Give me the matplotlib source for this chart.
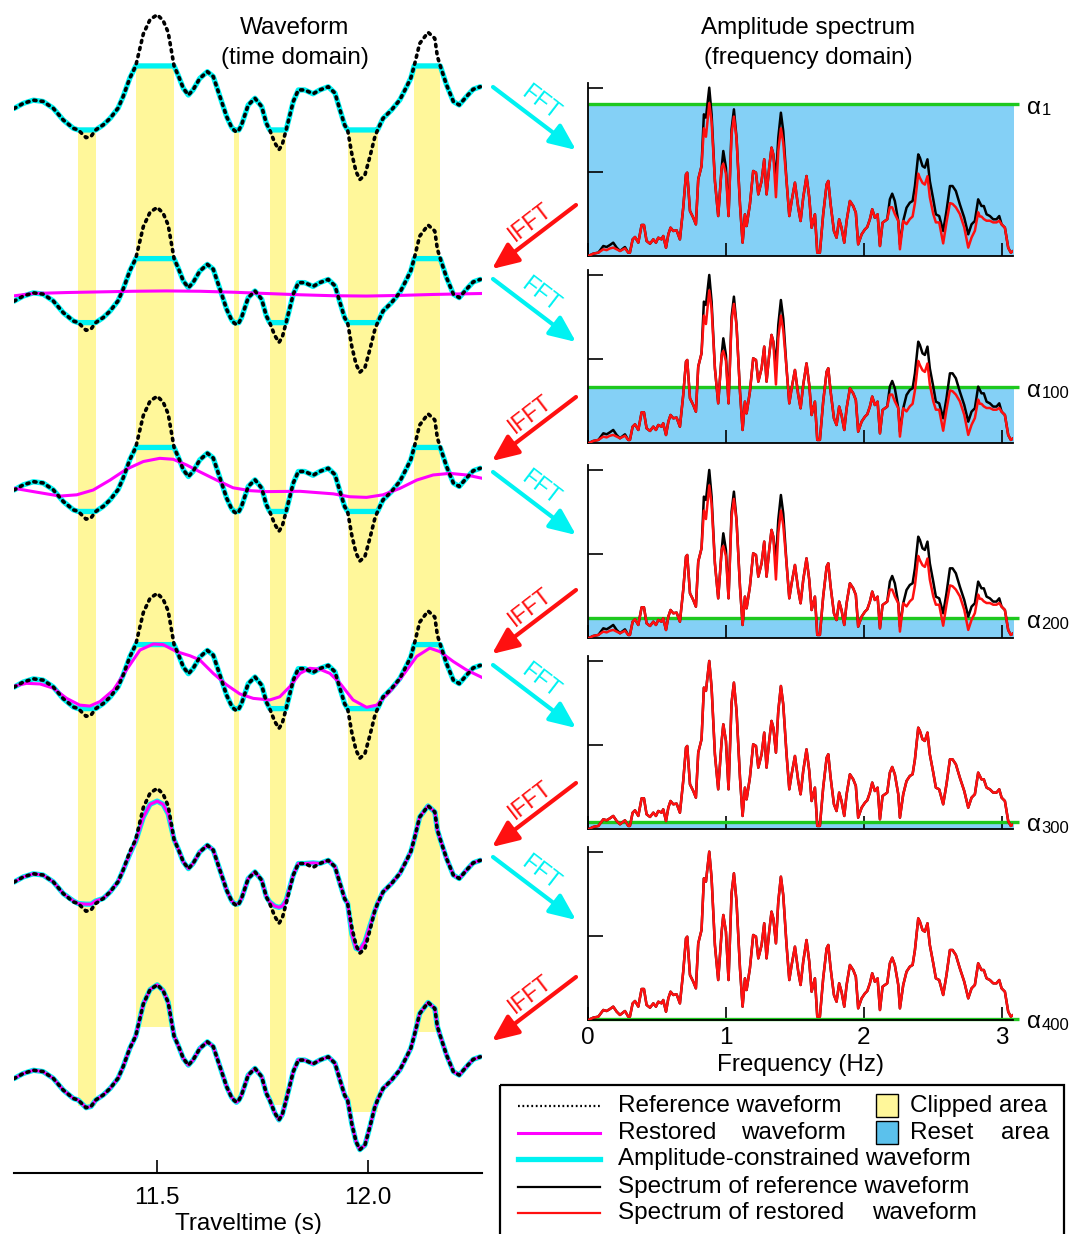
import numpy as np
import matplotlib
matplotlib.use("Agg")
import matplotlib.pyplot as plt
from matplotlib.patches import FancyArrowPatch, Rectangle

plt.rcParams['font.family'] = ['Liberation Sans', 'DejaVu Sans']

# ---------------- data ----------------
# reference waveform (time in s, amplitude in units of the clip level)
ref_t = [11.160, 11.182, 11.206, 11.229, 11.253, 11.277, 11.301, 11.3125, 11.331, 11.343,
         11.354, 11.372, 11.388, 11.407, 11.419, 11.435, 11.449, 11.467, 11.483, 11.500,
         11.514, 11.526, 11.540, 11.550, 11.562, 11.574, 11.585, 11.601, 11.619, 11.633,
         11.649, 11.665, 11.676, 11.682, 11.688, 11.694, 11.700, 11.716, 11.732, 11.748,
         11.759, 11.767, 11.779, 11.789, 11.797, 11.806, 11.823, 11.835, 11.850, 11.870,
         11.886, 11.906, 11.922, 11.934, 11.945, 11.952, 11.962, 11.972, 11.981, 11.993,
         12.005, 12.016, 12.023, 12.036, 12.056, 12.076, 12.092, 12.102, 12.110, 12.123,
         12.143, 12.159, 12.165, 12.172, 12.187, 12.203, 12.217, 12.234, 12.250, 12.267]
ref_a = [-0.33, -0.17, -0.07, -0.11, -0.32, -0.69, -0.95, -1.00, -1.24, -1.20,
         -1.00, -0.84, -0.64, -0.32, 0.04, 0.62, 1.00, 2.00, 2.45, 2.60,
         2.42, 2.05, 1.00, 0.70, 0.30, 0.09, 0.25, 0.61, 0.82, 0.67,
         0.04, -0.59, -0.90, -1.00, -1.07, -1.00, -0.85, -0.22, -0.01, -0.27,
         -0.79, -1.00, -1.40, -1.62, -1.45, -1.00, -0.11, 0.25, 0.25, 0.13,
         0.25, 0.35, 0.15, -0.38, -0.85, -1.00, -1.75, -2.30, -2.55, -2.41,
         -1.83, -1.25, -1.00, -0.64, -0.38, -0.06, 0.35, 0.62, 1.00, 1.70,
         2.05, 1.86, 1.30, 1.00, 0.40, -0.11, -0.22, 0.04, 0.27, 0.35]

# restored waveform of trace 5 (same times as reference)
rest5_a = [-0.33, -0.17, -0.07, -0.11, -0.32, -0.69, -0.92, -1.00, -1.02, -1.02,
           -0.92, -0.84, -0.64, -0.32, 0.04, 0.55, 0.95, 1.70, 2.10, 2.20,
           2.10, 1.80, 1.00, 0.70, 0.30, 0.09, 0.25, 0.61, 0.82, 0.67,
           0.04, -0.59, -0.90, -1.00, -1.02, -1.00, -0.85, -0.22, -0.01, -0.27,
           -0.79, -0.95, -1.08, -1.12, -1.08, -0.90, -0.11, 0.25, 0.25, 0.27,
           0.25, 0.35, 0.15, -0.38, -0.85, -1.00, -1.95, -2.40, -2.45, -2.20,
           -1.70, -1.25, -1.00, -0.64, -0.38, -0.06, 0.35, 0.62, 1.00, 1.70,
           2.05, 1.86, 1.30, 1.00, 0.40, -0.11, -0.22, 0.04, 0.27, 0.35]

# restored waveforms of traces 2-4
rest2_t = [11.162, 11.206, 11.285, 11.364, 11.443, 11.522, 11.601, 11.680, 11.759,
           11.839, 11.918, 11.997, 12.076, 12.155, 12.270]
rest2_a = [-0.16, -0.09, -0.06, -0.04, -0.02, -0.01, -0.02, -0.05, -0.09,
           -0.13, -0.16, -0.17, -0.15, -0.12, -0.09]
rest3_t = [11.162, 11.206, 11.269, 11.309, 11.348, 11.388, 11.427, 11.467, 11.506,
           11.538, 11.570, 11.601, 11.641, 11.680, 11.720, 11.759, 11.839, 11.918,
           11.957, 11.997, 12.036, 12.076, 12.116, 12.155, 12.195, 12.234, 12.270]
rest3_a = [-0.28, -0.38, -0.52, -0.48, -0.33, -0.02, 0.32, 0.56, 0.66,
           0.63, 0.45, 0.24, -0.02, -0.26, -0.35, -0.38, -0.37, -0.45,
           -0.54, -0.56, -0.48, -0.28, -0.02, 0.14, 0.19, 0.14, 0.04]
rest4_t = [11.162, 11.190, 11.222, 11.253, 11.285, 11.316, 11.340, 11.364, 11.396,
           11.427, 11.459, 11.491, 11.514, 11.546, 11.578, 11.601, 11.633, 11.665,
           11.696, 11.728, 11.767, 11.791, 11.815, 11.839, 11.862, 11.886, 11.910,
           11.934, 11.965, 11.997, 12.021, 12.052, 12.084, 12.116, 12.147, 12.171,
           12.203, 12.234, 12.270]
rest4_a = [-0.29, -0.21, -0.23, -0.36, -0.68, -0.89, -0.92, -0.78, -0.42,
           0.21, 0.83, 1.02, 1.00, 0.78, 0.65, 0.52, 0.10, -0.26,
           -0.54, -0.68, -0.73, -0.63, -0.31, 0.10, 0.26, 0.23, 0.10,
           -0.21, -0.73, -0.96, -0.89, -0.47, 0.05, 0.63, 0.89, 0.78,
           0.47, 0.21, -0.02]

clip_level = 1.0
# clipped intervals (start, end, side) and depth of the band in the last trace
band_t0 = [11.3125, 11.449, 11.682, 11.767, 11.952, 12.110]
band_t1 = [11.354, 11.540, 11.694, 11.806, 12.023, 12.172]
band_side = [-1, 1, -1, -1, -1, 1]
band_end = [-1.2, 1.29, -1.0, -1.16, -1.36, 1.14]

# amplitude spectra
spec_f = [0.000, 0.036, 0.073, 0.109, 0.133, 0.157, 0.181, 0.206, 0.230, 0.266,
          0.290, 0.302, 0.322, 0.339, 0.363, 0.387, 0.404, 0.423, 0.448, 0.472,
          0.491, 0.508, 0.532, 0.544, 0.564, 0.581, 0.597, 0.617, 0.641, 0.665,
          0.689, 0.709, 0.718, 0.738, 0.762, 0.781, 0.798, 0.822, 0.839, 0.854,
          0.878, 0.895, 0.919, 0.943, 0.968, 0.980, 0.999, 1.018, 1.040, 1.057,
          1.076, 1.101, 1.120, 1.137, 1.149, 1.173, 1.197, 1.217, 1.234, 1.258,
          1.277, 1.294, 1.313, 1.330, 1.343, 1.362, 1.379, 1.398, 1.415, 1.439,
          1.459, 1.476, 1.500, 1.524, 1.541, 1.560, 1.584, 1.604, 1.621, 1.645,
          1.662, 1.681, 1.705, 1.730, 1.742, 1.759, 1.783, 1.802, 1.821, 1.838,
          1.858, 1.875, 1.899, 1.923, 1.942, 1.959, 1.984, 2.008, 2.025, 2.044,
          2.061, 2.080, 2.100, 2.117, 2.136, 2.153, 2.170, 2.189, 2.206, 2.225,
          2.250, 2.262, 2.286, 2.310, 2.334, 2.354, 2.371, 2.395, 2.407, 2.426,
          2.443, 2.462, 2.479, 2.504, 2.523, 2.547, 2.576, 2.600, 2.625, 2.644,
          2.668, 2.697, 2.729, 2.758, 2.782, 2.806, 2.830, 2.842, 2.854, 2.871,
          2.891, 2.915, 2.939, 2.963, 2.983, 3.000, 3.024, 3.048, 3.067, 3.091]
spec_ref = [0.000, 0.028, 0.040, 0.119, 0.107, 0.131, 0.159, 0.099, 0.060, 0.107,
            0.040, 0.040, 0.198, 0.226, 0.159, 0.369, 0.369, 0.179, 0.147, 0.198,
            0.159, 0.218, 0.198, 0.238, 0.099, 0.258, 0.337, 0.298, 0.306, 0.198,
            0.575, 0.972, 0.992, 0.536, 0.456, 0.377, 0.913, 1.071, 1.687, 1.647,
            2.004, 1.687, 0.893, 0.476, 1.052, 1.250, 1.052, 0.476, 1.508, 1.746,
            1.409, 0.615, 0.159, 0.496, 0.357, 0.615, 1.012, 0.992, 0.734, 0.893,
            1.151, 0.734, 1.052, 1.290, 1.210, 0.913, 1.409, 1.706, 1.488, 0.893,
            0.476, 0.655, 0.873, 0.575, 0.417, 0.694, 0.952, 0.694, 0.337, 0.496,
            0.040, 0.040, 0.496, 0.853, 0.893, 0.615, 0.298, 0.218, 0.437, 0.337,
            0.159, 0.417, 0.655, 0.595, 0.516, 0.139, 0.258, 0.317, 0.345, 0.437,
            0.556, 0.456, 0.496, 0.119, 0.397, 0.417, 0.437, 0.675, 0.742, 0.655,
            0.417, 0.139, 0.417, 0.575, 0.635, 0.655, 0.833, 1.210, 1.171, 1.071,
            1.052, 1.151, 0.893, 0.675, 0.496, 0.476, 0.298, 0.536, 0.833, 0.833,
            0.774, 0.615, 0.456, 0.258, 0.377, 0.417, 0.675, 0.635, 0.595, 0.595,
            0.496, 0.476, 0.437, 0.437, 0.476, 0.377, 0.337, 0.099, 0.040, 0.067]
spec_rest = [0.000, 0.028, 0.040, 0.080, 0.070, 0.090, 0.100, 0.080, 0.060, 0.090,
             0.040, 0.040, 0.198, 0.226, 0.159, 0.369, 0.369, 0.179, 0.147, 0.198,
             0.159, 0.218, 0.198, 0.238, 0.099, 0.258, 0.337, 0.298, 0.306, 0.198,
             0.575, 0.972, 0.992, 0.536, 0.456, 0.377, 0.913, 1.071, 1.520, 1.420,
             1.820, 1.600, 0.893, 0.476, 1.052, 1.100, 0.980, 0.476, 1.450, 1.660,
             1.400, 0.615, 0.159, 0.496, 0.357, 0.615, 1.012, 0.992, 0.734, 0.893,
             1.151, 0.734, 1.052, 1.290, 1.210, 0.700, 1.250, 1.520, 1.350, 0.893,
             0.476, 0.655, 0.873, 0.575, 0.417, 0.694, 0.952, 0.694, 0.337, 0.496,
             0.040, 0.040, 0.496, 0.853, 0.893, 0.615, 0.298, 0.218, 0.437, 0.337,
             0.159, 0.417, 0.655, 0.595, 0.516, 0.139, 0.258, 0.317, 0.345, 0.437,
             0.556, 0.456, 0.496, 0.119, 0.397, 0.417, 0.437, 0.580, 0.580, 0.500,
             0.417, 0.080, 0.417, 0.380, 0.440, 0.470, 0.630, 0.980, 0.930, 0.870,
             0.850, 0.950, 0.700, 0.500, 0.400, 0.400, 0.150, 0.400, 0.630, 0.620,
             0.580, 0.500, 0.340, 0.100, 0.220, 0.300, 0.520, 0.470, 0.470, 0.440,
             0.420, 0.420, 0.400, 0.400, 0.420, 0.377, 0.337, 0.099, 0.040, 0.067]

alpha_levels = [1.81, 0.667, 0.238, 0.09, 0.015]
alpha_names = ['1', '100', '200', '300', '400']

# ---------------- styling ----------------
W, H = 1073, 1234
YELLOW = '#fff79a'
CYAN = '#00f2f2'
MAGENTA = '#ff00ff'
BLUE = '#84d0f6'
GREEN = '#1ec81e'
RED = '#ff1010'
FS = 17.5

fig = plt.figure(figsize=(W / 100, H / 100), dpi=100)


def box(x0, y0, x1, y1):
    # pixel box -> figure fraction
    return [x0 / W, 1 - y1 / H, (x1 - x0) / W, (y1 - y0) / H]


# ---------------- waveform panel ----------------
trace_off = [0.0, 6.02, 11.92, 18.08, 24.17, 30.31]
ax = fig.add_axes(box(14, 0, 482, 1172.7))
ax.set_xlim(11.160, 12.271)
ax.set_ylim(-33.58, 3.06)

for t0, t1, side, end in zip(band_t0, band_t1, band_side, band_end):
    ax.fill_between([t0, t1], end - trace_off[-1], side * clip_level - trace_off[0],
                    color=YELLOW, lw=0, zorder=1)

ref_t_arr = np.array(ref_t)
ref_a_arr = np.array(ref_a)
clipped = np.clip(ref_a_arr, -clip_level, clip_level)
restored = [None, (rest2_t, rest2_a), (rest3_t, rest3_a), (rest4_t, rest4_a),
            (ref_t, rest5_a), (ref_t, ref_a)]
constrained = [clipped, clipped, clipped, clipped, np.array(rest5_a), ref_a_arr]

for k, off in enumerate(trace_off):
    ax.plot(ref_t_arr, constrained[k] - off, color=CYAN, lw=3.8,
            solid_capstyle='round', solid_joinstyle='round', zorder=2)
    if restored[k] is not None:
        rt, ra = restored[k]
        ax.plot(rt, np.array(ra) - off, color=MAGENTA, lw=2.2, zorder=3)
    ax.plot(ref_t_arr, ref_a_arr - off, color='black', lw=2.6,
            dashes=(0.6, 1.4), dash_capstyle='round', zorder=4)

for s in ['left', 'right', 'top']:
    ax.spines[s].set_visible(False)
ax.spines['bottom'].set_linewidth(1.5)
ax.set_yticks([])
ax.set_xticks([11.5, 12.0])
ax.set_xticklabels(['11.5', '12.0'])
ax.tick_params(axis='x', direction='in', length=9.5, width=1.2, pad=10, labelsize=FS)
ax.set_xlabel('Traveltime (s)', fontsize=FS, labelpad=3)
ax.patch.set_alpha(0)

# ---------------- spectrum panels ----------------
panel_bottom = [256, 443.3, 638.3, 829.3, 1020]
unit = 84.0
f_max = spec_f[-1]
for i, yb in enumerate(panel_bottom):
    sa = fig.add_axes(box(588.3, yb - 2.06 * unit, 1013.3, yb))
    sa.set_xlim(0, 3.085)
    sa.set_ylim(0, 2.06)
    lev = alpha_levels[i]
    sa.fill_between([0, f_max], 0, lev, color=BLUE, lw=0, zorder=1)
    sa.plot([0, 3.13], [lev, lev], color=GREEN, lw=2.4, clip_on=False, zorder=2,
            solid_capstyle='butt')
    red = spec_rest if i < 3 else spec_ref
    sa.plot(spec_f, spec_ref, color='black', lw=1.8, zorder=3)
    sa.plot(spec_f, red, color=RED, lw=1.8, zorder=4)
    for s in ['right', 'top']:
        sa.spines[s].set_visible(False)
    for s in ['left', 'bottom']:
        sa.spines[s].set_linewidth(1.3)
    sa.set_yticks([1, 2])
    sa.set_yticklabels([])
    sa.set_xticks([0, 1, 2, 3])
    sa.tick_params(direction='in', width=1.2, labelsize=FS)
    sa.tick_params(axis='y', length=10.5)
    sa.tick_params(axis='x', length=9.5, pad=5)
    if i < len(panel_bottom) - 1:
        sa.set_xticklabels([])
    else:
        sa.set_xlabel('Frequency (Hz)', fontsize=FS, labelpad=4)
    tr = sa.get_yaxis_transform()
    sa.annotate('α', xy=(1.032, lev), xycoords=tr, xytext=(0, -7), textcoords='offset points',
                fontsize=FS, ha='left', va='baseline', annotation_clip=False)
    sa.annotate(alpha_names[i], xy=(1.032, lev), xycoords=tr, xytext=(10.5, -8),
                textcoords='offset points', fontsize=12, ha='left', va='baseline',
                annotation_clip=False)
    sa.patch.set_alpha(0)

# ---------------- overlay: titles, arrows, legend ----------------
ov = fig.add_axes([0, 0, 1, 1], zorder=10)
ov.set_xlim(0, W)
ov.set_ylim(H, 0)
ov.axis('off')

ov.text(295, 28, 'Waveform', fontsize=FS, ha='center', va='center')
ov.text(295, 58, '(time domain)', fontsize=FS, ha='center', va='center')
ov.text(808, 28, 'Amplitude spectrum', fontsize=FS, ha='center', va='center')
ov.text(808, 58, '(frequency domain)', fontsize=FS, ha='center', va='center')

fft_rows = [87, 279, 472, 665, 857]
ifft_rows = [205, 397, 590, 783, 977]
head = '-|>,head_length=16,head_width=7'
for y in fft_rows:
    ov.add_patch(FancyArrowPatch((493, y), (576, y + 63), arrowstyle=head,
                                 color=CYAN, lw=3, mutation_scale=1, shrinkA=0, shrinkB=0))
    ov.text(541, y + 16, 'FFT', color=CYAN, fontsize=16.5, rotation=-37.5,
            ha='center', va='center', rotation_mode='anchor')
for y in ifft_rows:
    ov.add_patch(FancyArrowPatch((576, y), (492, y + 64), arrowstyle=head,
                                 color=RED, lw=3, mutation_scale=1, shrinkA=0, shrinkB=0))
    ov.text(530, y + 17, 'IFFT', color=RED, fontsize=16.5, rotation=37.5,
            ha='center', va='center', rotation_mode='anchor')

# legend
ov.add_patch(Rectangle((500, 1085), 564, 160, fill=False, ec='black', lw=1.6))
leg_y = [1106, 1133, 1159, 1187, 1213]
ov.plot([518, 600], [leg_y[0]] * 2, color='black', lw=1.6, dashes=(0.8, 1.2))
ov.plot([518, 600], [leg_y[1]] * 2, color=MAGENTA, lw=2.2)
ov.plot([518, 600], [leg_y[2]] * 2, color=CYAN, lw=3.8)
ov.plot([518, 600], [leg_y[3]] * 2, color='black', lw=1.6)
ov.plot([518, 600], [leg_y[4]] * 2, color=RED, lw=1.6)
ov.text(618, leg_y[0], 'Reference waveform', fontsize=FS, va='center')
ov.text(618, leg_y[1], 'Restored', fontsize=FS, va='center')
ov.text(846, leg_y[1], 'waveform', fontsize=FS, va='center', ha='right')
ov.text(618, leg_y[2], 'Amplitude-constrained waveform', fontsize=FS, va='center')
ov.text(618, leg_y[3], 'Spectrum of reference waveform', fontsize=FS, va='center')
ov.text(618, leg_y[4], 'Spectrum of restored', fontsize=FS, va='center')
ov.text(977, leg_y[4], 'waveform', fontsize=FS, va='center', ha='right')
ov.add_patch(Rectangle((876, 1094), 22, 23, fc=YELLOW, ec='black', lw=1))
ov.add_patch(Rectangle((876, 1121), 22, 23, fc='#5bc1ec', ec='black', lw=1))
ov.text(910, leg_y[0], 'Clipped area', fontsize=FS, va='center')
ov.text(910, leg_y[1], 'Reset', fontsize=FS, va='center')
ov.text(1049, leg_y[1], 'area', fontsize=FS, va='center', ha='right')

fig.savefig('out.png', dpi=100)
